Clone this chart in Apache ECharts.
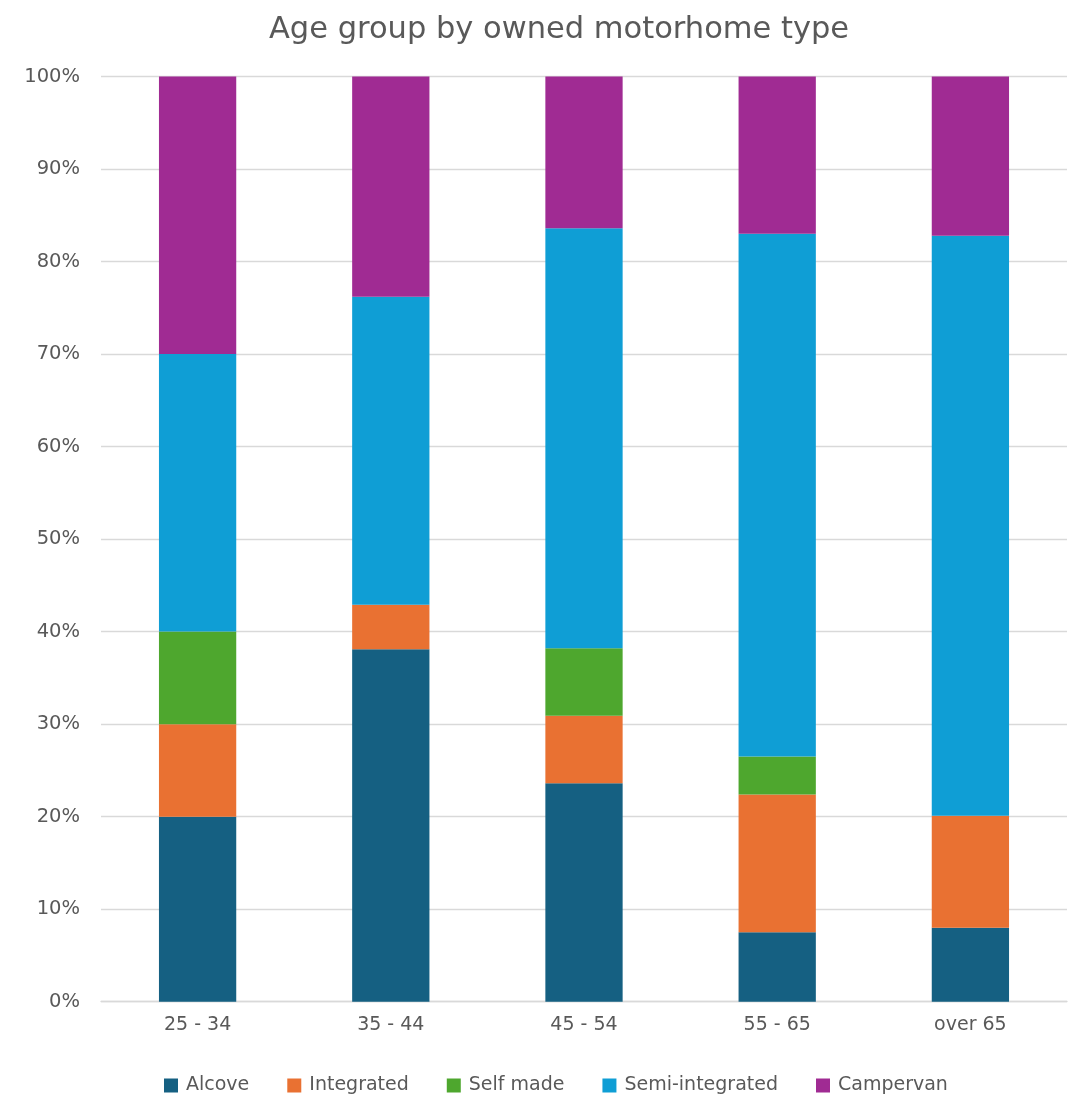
<!DOCTYPE html>
<html>
<head>
<meta charset="utf-8">
<script src="https://cdn.jsdelivr.net/npm/echarts@6/dist/echarts.min.js"></script>
<style>
html,body{margin:0;padding:0;background:#fff;}
#chart{width:1073px;height:1098px;}
</style>
</head>
<body>
<div id="chart"></div>
<script>
const categories = ['25 - 34', '35 - 44', '45 - 54', '55 - 65', 'over 65'];
const seriesNames = ['Alcove', 'Integrated', 'Self made', 'Semi-integrated', 'Campervan'];
const alcove = [20.0, 38.1, 23.6, 7.5, 8.0];
const integrated = [10.0, 4.8, 7.3, 14.9, 12.1];
const selfMade = [10.0, 0, 7.3, 4.1, 0];
const semiIntegrated = [30.0, 33.3, 45.4, 56.5, 62.7];
const campervan = [30.0, 23.8, 16.4, 17.0, 17.2];
const yTicks = [0, 10, 20, 30, 40, 50, 60, 70, 80, 90, 100];
const colors = ['#156082', '#E97132', '#4EA72E', '#0F9ED5', '#A02B93'];

const values = [alcove, integrated, selfMade, semiIntegrated, campervan];
const font = 'DejaVu Sans';
const chart = echarts.init(document.getElementById('chart'), null, {renderer: 'canvas'});
chart.setOption({
  animation: false,
  color: colors,
  title: {
    text: 'Age group by owned motorhome type',
    left: 264,
    top: 10,
    textStyle: {color: '#595959', fontSize: 30.5, fontWeight: 'normal', fontFamily: font}
  },
  legend: {
    bottom: -2,
    left: 159,
    itemWidth: 14,
    itemHeight: 14,
    itemGap: 38,
    icon: 'rect',
    textStyle: {color: '#595959', fontSize: 19, fontFamily: font, padding: [0, 0, 0, 3]},
    data: seriesNames
  },
  grid: {left: 101, right: 6, top: 76.5, bottom: 96.3, containLabel: false},
  xAxis: {
    type: 'category',
    data: categories,
    axisLine: {lineStyle: {color: '#D9D9D9', width: 1.3}},
    axisTick: {show: false},
    axisLabel: {color: '#595959', fontSize: 19, fontFamily: font, margin: 14}
  },
  yAxis: {
    type: 'value',
    min: yTicks[0],
    max: yTicks[yTicks.length - 1],
    interval: 10,
    axisLine: {show: false},
    axisTick: {show: false},
    splitLine: {lineStyle: {color: '#D9D9D9', width: 1.3}},
    axisLabel: {color: '#595959', fontSize: 19.5, fontFamily: font, margin: 21, formatter: v => v + '%'}
  },
  series: seriesNames.map((name, i) => ({
    name: name,
    type: 'bar',
    stack: 'total',
    barWidth: '40%',
    data: values[i],
    itemStyle: {color: colors[i]}
  }))
});
</script>
</body>
</html>
